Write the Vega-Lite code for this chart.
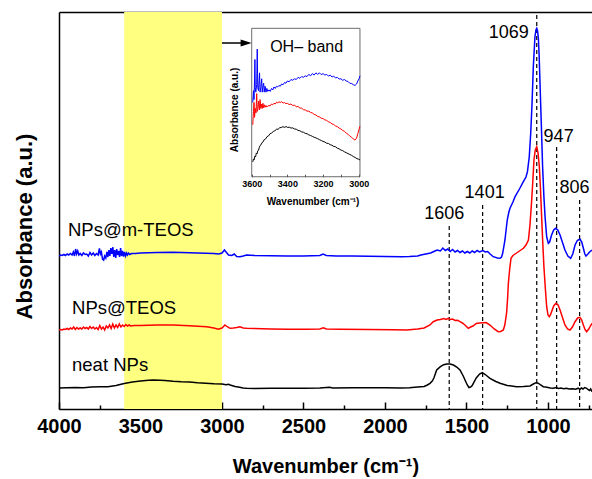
{
  "$schema": "https://vega.github.io/schema/vega-lite/v6.json",
  "width": 533,
  "height": 397,
  "autosize": {"type": "none"},
  "padding": {"left": 59, "top": 12, "right": 0, "bottom": 70},
  "config": {
    "view": {"stroke": null},
    "font": "Liberation Sans",
    "axisY": {"domain": true, "domainColor": "black", "domainWidth": 1.5, "ticks": false, "labels": false, "grid": false, "titleFont": "Liberation Sans", "titleFontSize": 22, "titleFontWeight": "bold", "titleColor": "black", "titlePadding": 23, "titleY": 214}
  },
  "datasets": {
    "band": [{"w": 3600, "w2": 3000}],
    "arrow": [{"w": 3000, "w2": 2852, "v": 366}],
    "peaks": [{"p": "1606", "w": 1606, "v": 183}, {"p": "1401", "w": 1401, "v": 204}, {"p": "1069", "w": 1069, "v": 394}, {"p": "947", "w": 947, "v": 262}, {"p": "806", "w": 806, "v": 209}],
    "peakLabelsA": [{"p": "1606", "w": 1606, "v": 195}, {"p": "806", "w": 806, "v": 221}],
    "peakLabelsB": [{"p": "1401", "w": 1401, "v": 216}, {"p": "947", "w": 947, "v": 272}],
    "peakLabelMain": [{"p": "1069", "w": 1069, "v": 376}],
    "names": [{"name": "NPs@m-TEOS", "w": 3945, "v": 179}, {"name": "NPs@TEOS", "w": 3920, "v": 101}, {"name": "neat NPs", "w": 3920, "v": 44}],
    "main": [
      {"s":"neat NPs","w":4000,"v":21},{"s":"neat NPs","w":3950,"v":21.3},{"s":"neat NPs","w":3900,"v":21.5},{"s":"neat NPs","w":3850,"v":21.2},{"s":"neat NPs","w":3800,"v":22},{"s":"neat NPs","w":3750,"v":22.3},{"s":"neat NPs","w":3700,"v":22.3},{"s":"neat NPs","w":3650,"v":23.5},{"s":"neat NPs","w":3600,"v":25.5},{"s":"neat NPs","w":3550,"v":27},{"s":"neat NPs","w":3500,"v":28},{"s":"neat NPs","w":3450,"v":28.7},{"s":"neat NPs","w":3420,"v":29},{"s":"neat NPs","w":3380,"v":28.8},{"s":"neat NPs","w":3350,"v":28.5},{"s":"neat NPs","w":3300,"v":27.8},{"s":"neat NPs","w":3250,"v":27.3},{"s":"neat NPs","w":3200,"v":27},{"s":"neat NPs","w":3150,"v":26.3},{"s":"neat NPs","w":3100,"v":25.8},{"s":"neat NPs","w":3050,"v":25.3},{"s":"neat NPs","w":3000,"v":25},{"s":"neat NPs","w":2975,"v":24.3},{"s":"neat NPs","w":2960,"v":24.8},{"s":"neat NPs","w":2950,"v":24},{"s":"neat NPs","w":2920,"v":22.5},{"s":"neat NPs","w":2900,"v":22},{"s":"neat NPs","w":2870,"v":21},{"s":"neat NPs","w":2850,"v":20.7},{"s":"neat NPs","w":2800,"v":20.6},{"s":"neat NPs","w":2700,"v":20.7},{"s":"neat NPs","w":2600,"v":20.8},{"s":"neat NPs","w":2500,"v":20.7},{"s":"neat NPs","w":2400,"v":21},{"s":"neat NPs","w":2360,"v":21.5},{"s":"neat NPs","w":2340,"v":21.8},{"s":"neat NPs","w":2320,"v":21},{"s":"neat NPs","w":2200,"v":21.2},{"s":"neat NPs","w":2100,"v":21.3},{"s":"neat NPs","w":2000,"v":21.2},{"s":"neat NPs","w":1900,"v":21},{"s":"neat NPs","w":1850,"v":21.3},{"s":"neat NPs","w":1800,"v":22},{"s":"neat NPs","w":1760,"v":22.5},{"s":"neat NPs","w":1740,"v":24},{"s":"neat NPs","w":1724,"v":25.7},{"s":"neat NPs","w":1710,"v":28},{"s":"neat NPs","w":1700,"v":31},{"s":"neat NPs","w":1683,"v":39},{"s":"neat NPs","w":1660,"v":42.3},{"s":"neat NPs","w":1640,"v":44.3},{"s":"neat NPs","w":1620,"v":45},{"s":"neat NPs","w":1601,"v":45},{"s":"neat NPs","w":1580,"v":44},{"s":"neat NPs","w":1560,"v":42},{"s":"neat NPs","w":1540,"v":39},{"s":"neat NPs","w":1520,"v":33},{"s":"neat NPs","w":1505,"v":27.5},{"s":"neat NPs","w":1495,"v":24},{"s":"neat NPs","w":1485,"v":21.5},{"s":"neat NPs","w":1475,"v":22},{"s":"neat NPs","w":1465,"v":23.5},{"s":"neat NPs","w":1458,"v":25.7},{"s":"neat NPs","w":1440,"v":31},{"s":"neat NPs","w":1420,"v":35},{"s":"neat NPs","w":1403,"v":36.3},{"s":"neat NPs","w":1385,"v":34.5},{"s":"neat NPs","w":1370,"v":32.5},{"s":"neat NPs","w":1356,"v":30.7},{"s":"neat NPs","w":1320,"v":27.5},{"s":"neat NPs","w":1294,"v":25.7},{"s":"neat NPs","w":1250,"v":23.5},{"s":"neat NPs","w":1192,"v":22.3},{"s":"neat NPs","w":1150,"v":22.5},{"s":"neat NPs","w":1110,"v":23},{"s":"neat NPs","w":1090,"v":25},{"s":"neat NPs","w":1074,"v":26.3},{"s":"neat NPs","w":1060,"v":25.8},{"s":"neat NPs","w":1045,"v":24},{"s":"neat NPs","w":1029,"v":22.3},{"s":"neat NPs","w":1015,"v":22},{"s":"neat NPs","w":1000,"v":21.5},{"s":"neat NPs","w":985,"v":21},{"s":"neat NPs","w":968,"v":20.7},{"s":"neat NPs","w":950,"v":21.5},{"s":"neat NPs","w":935,"v":20.5},{"s":"neat NPs","w":920,"v":21},{"s":"neat NPs","w":905,"v":20.3},{"s":"neat NPs","w":886,"v":20.7},{"s":"neat NPs","w":870,"v":20},{"s":"neat NPs","w":850,"v":20.3},{"s":"neat NPs","w":830,"v":19.8},{"s":"neat NPs","w":815,"v":20.8},{"s":"neat NPs","w":804,"v":19.7},{"s":"neat NPs","w":795,"v":21},{"s":"neat NPs","w":785,"v":20},{"s":"neat NPs","w":775,"v":21.5},{"s":"neat NPs","w":763,"v":20.7},{"s":"neat NPs","w":755,"v":19.5},{"s":"neat NPs","w":745,"v":18.5},{"s":"neat NPs","w":738,"v":20},{"s":"neat NPs","w":730,"v":17.3},
      {"s":"NPs@TEOS","w":4000,"v":79},{"s":"NPs@TEOS","w":3990,"v":79.5},{"s":"NPs@TEOS","w":3980,"v":79},{"s":"NPs@TEOS","w":3970,"v":80},{"s":"NPs@TEOS","w":3960,"v":79.5},{"s":"NPs@TEOS","w":3950,"v":80.5},{"s":"NPs@TEOS","w":3940,"v":79.5},{"s":"NPs@TEOS","w":3930,"v":81},{"s":"NPs@TEOS","w":3920,"v":80},{"s":"NPs@TEOS","w":3910,"v":82},{"s":"NPs@TEOS","w":3900,"v":79.5},{"s":"NPs@TEOS","w":3890,"v":81.5},{"s":"NPs@TEOS","w":3880,"v":80},{"s":"NPs@TEOS","w":3870,"v":81},{"s":"NPs@TEOS","w":3860,"v":80},{"s":"NPs@TEOS","w":3850,"v":82},{"s":"NPs@TEOS","w":3840,"v":80.5},{"s":"NPs@TEOS","w":3830,"v":81.5},{"s":"NPs@TEOS","w":3820,"v":80},{"s":"NPs@TEOS","w":3810,"v":82.5},{"s":"NPs@TEOS","w":3800,"v":80.5},{"s":"NPs@TEOS","w":3790,"v":82},{"s":"NPs@TEOS","w":3780,"v":80},{"s":"NPs@TEOS","w":3770,"v":81.5},{"s":"NPs@TEOS","w":3760,"v":79.5},{"s":"NPs@TEOS","w":3750,"v":83.5},{"s":"NPs@TEOS","w":3740,"v":80},{"s":"NPs@TEOS","w":3730,"v":82},{"s":"NPs@TEOS","w":3720,"v":79},{"s":"NPs@TEOS","w":3710,"v":83},{"s":"NPs@TEOS","w":3700,"v":81},{"s":"NPs@TEOS","w":3690,"v":84},{"s":"NPs@TEOS","w":3680,"v":80.5},{"s":"NPs@TEOS","w":3670,"v":85},{"s":"NPs@TEOS","w":3660,"v":81},{"s":"NPs@TEOS","w":3650,"v":84},{"s":"NPs@TEOS","w":3640,"v":81.5},{"s":"NPs@TEOS","w":3630,"v":85},{"s":"NPs@TEOS","w":3620,"v":82},{"s":"NPs@TEOS","w":3610,"v":84},{"s":"NPs@TEOS","w":3600,"v":82.5},{"s":"NPs@TEOS","w":3590,"v":84.5},{"s":"NPs@TEOS","w":3580,"v":83},{"s":"NPs@TEOS","w":3570,"v":84},{"s":"NPs@TEOS","w":3560,"v":83},{"s":"NPs@TEOS","w":3540,"v":83.5},{"s":"NPs@TEOS","w":3500,"v":83.5},{"s":"NPs@TEOS","w":3400,"v":84},{"s":"NPs@TEOS","w":3300,"v":84},{"s":"NPs@TEOS","w":3200,"v":83.3},{"s":"NPs@TEOS","w":3094,"v":82.3},{"s":"NPs@TEOS","w":3050,"v":81},{"s":"NPs@TEOS","w":3023,"v":79.7},{"s":"NPs@TEOS","w":3000,"v":81},{"s":"NPs@TEOS","w":2982,"v":84},{"s":"NPs@TEOS","w":2970,"v":82.5},{"s":"NPs@TEOS","w":2951,"v":80.7},{"s":"NPs@TEOS","w":2930,"v":81},{"s":"NPs@TEOS","w":2910,"v":81.5},{"s":"NPs@TEOS","w":2890,"v":82.3},{"s":"NPs@TEOS","w":2870,"v":81},{"s":"NPs@TEOS","w":2849,"v":80.7},{"s":"NPs@TEOS","w":2700,"v":80},{"s":"NPs@TEOS","w":2600,"v":79.8},{"s":"NPs@TEOS","w":2480,"v":79.7},{"s":"NPs@TEOS","w":2400,"v":80},{"s":"NPs@TEOS","w":2378,"v":81.3},{"s":"NPs@TEOS","w":2360,"v":80},{"s":"NPs@TEOS","w":2276,"v":79.7},{"s":"NPs@TEOS","w":2100,"v":79.5},{"s":"NPs@TEOS","w":1950,"v":79.2},{"s":"NPs@TEOS","w":1867,"v":79},{"s":"NPs@TEOS","w":1800,"v":80},{"s":"NPs@TEOS","w":1760,"v":81},{"s":"NPs@TEOS","w":1724,"v":84},{"s":"NPs@TEOS","w":1704,"v":87.3},{"s":"NPs@TEOS","w":1680,"v":89},{"s":"NPs@TEOS","w":1660,"v":89.5},{"s":"NPs@TEOS","w":1640,"v":90.5},{"s":"NPs@TEOS","w":1625,"v":89.5},{"s":"NPs@TEOS","w":1612,"v":90.7},{"s":"NPs@TEOS","w":1600,"v":89.5},{"s":"NPs@TEOS","w":1585,"v":90},{"s":"NPs@TEOS","w":1570,"v":88.5},{"s":"NPs@TEOS","w":1555,"v":88.8},{"s":"NPs@TEOS","w":1540,"v":87.3},{"s":"NPs@TEOS","w":1525,"v":86},{"s":"NPs@TEOS","w":1510,"v":84},{"s":"NPs@TEOS","w":1489,"v":80.7},{"s":"NPs@TEOS","w":1475,"v":82},{"s":"NPs@TEOS","w":1460,"v":83},{"s":"NPs@TEOS","w":1440,"v":85.5},{"s":"NPs@TEOS","w":1420,"v":86},{"s":"NPs@TEOS","w":1397,"v":86.3},{"s":"NPs@TEOS","w":1380,"v":86.5},{"s":"NPs@TEOS","w":1356,"v":84},{"s":"NPs@TEOS","w":1330,"v":80},{"s":"NPs@TEOS","w":1305,"v":77.3},{"s":"NPs@TEOS","w":1290,"v":77.5},{"s":"NPs@TEOS","w":1274,"v":79},{"s":"NPs@TEOS","w":1265,"v":84},{"s":"NPs@TEOS","w":1254,"v":96},{"s":"NPs@TEOS","w":1248,"v":110},{"s":"NPs@TEOS","w":1243,"v":126},{"s":"NPs@TEOS","w":1235,"v":140},{"s":"NPs@TEOS","w":1227,"v":150.7},{"s":"NPs@TEOS","w":1215,"v":153.5},{"s":"NPs@TEOS","w":1202,"v":155},{"s":"NPs@TEOS","w":1175,"v":158},{"s":"NPs@TEOS","w":1151,"v":160.7},{"s":"NPs@TEOS","w":1135,"v":164},{"s":"NPs@TEOS","w":1120,"v":169},{"s":"NPs@TEOS","w":1110,"v":185},{"s":"NPs@TEOS","w":1100,"v":209},{"s":"NPs@TEOS","w":1093,"v":228},{"s":"NPs@TEOS","w":1086,"v":249},{"s":"NPs@TEOS","w":1078,"v":259},{"s":"NPs@TEOS","w":1069,"v":262.3},{"s":"NPs@TEOS","w":1061,"v":256},{"s":"NPs@TEOS","w":1053,"v":242.3},{"s":"NPs@TEOS","w":1046,"v":220},{"s":"NPs@TEOS","w":1039,"v":192.3},{"s":"NPs@TEOS","w":1032,"v":166},{"s":"NPs@TEOS","w":1025,"v":142.3},{"s":"NPs@TEOS","w":1016,"v":120},{"s":"NPs@TEOS","w":1008,"v":102.3},{"s":"NPs@TEOS","w":1000,"v":94},{"s":"NPs@TEOS","w":992,"v":92.3},{"s":"NPs@TEOS","w":985,"v":94},{"s":"NPs@TEOS","w":978,"v":97.3},{"s":"NPs@TEOS","w":965,"v":103},{"s":"NPs@TEOS","w":951,"v":105.7},{"s":"NPs@TEOS","w":938,"v":104},{"s":"NPs@TEOS","w":926,"v":99},{"s":"NPs@TEOS","w":910,"v":91},{"s":"NPs@TEOS","w":896,"v":84},{"s":"NPs@TEOS","w":880,"v":80},{"s":"NPs@TEOS","w":865,"v":79},{"s":"NPs@TEOS","w":850,"v":82},{"s":"NPs@TEOS","w":834,"v":87.3},{"s":"NPs@TEOS","w":818,"v":91},{"s":"NPs@TEOS","w":804,"v":91.7},{"s":"NPs@TEOS","w":793,"v":89},{"s":"NPs@TEOS","w":783,"v":84},{"s":"NPs@TEOS","w":773,"v":79.5},{"s":"NPs@TEOS","w":763,"v":77.3},{"s":"NPs@TEOS","w":750,"v":80},{"s":"NPs@TEOS","w":740,"v":83},{"s":"NPs@TEOS","w":730,"v":85.7},
      {"s":"NPs@m-TEOS","w":4000,"v":153},{"s":"NPs@m-TEOS","w":3990,"v":154},{"s":"NPs@m-TEOS","w":3980,"v":153.5},{"s":"NPs@m-TEOS","w":3970,"v":154.5},{"s":"NPs@m-TEOS","w":3960,"v":153.5},{"s":"NPs@m-TEOS","w":3950,"v":155},{"s":"NPs@m-TEOS","w":3940,"v":154},{"s":"NPs@m-TEOS","w":3930,"v":155.5},{"s":"NPs@m-TEOS","w":3920,"v":154},{"s":"NPs@m-TEOS","w":3912,"v":157},{"s":"NPs@m-TEOS","w":3905,"v":153},{"s":"NPs@m-TEOS","w":3898,"v":160},{"s":"NPs@m-TEOS","w":3892,"v":155},{"s":"NPs@m-TEOS","w":3885,"v":158},{"s":"NPs@m-TEOS","w":3878,"v":154},{"s":"NPs@m-TEOS","w":3870,"v":155.5},{"s":"NPs@m-TEOS","w":3860,"v":153.5},{"s":"NPs@m-TEOS","w":3850,"v":156},{"s":"NPs@m-TEOS","w":3840,"v":154.5},{"s":"NPs@m-TEOS","w":3830,"v":155},{"s":"NPs@m-TEOS","w":3820,"v":153},{"s":"NPs@m-TEOS","w":3810,"v":156.5},{"s":"NPs@m-TEOS","w":3800,"v":154},{"s":"NPs@m-TEOS","w":3790,"v":156},{"s":"NPs@m-TEOS","w":3780,"v":153.5},{"s":"NPs@m-TEOS","w":3770,"v":155.5},{"s":"NPs@m-TEOS","w":3760,"v":154},{"s":"NPs@m-TEOS","w":3752,"v":160.5},{"s":"NPs@m-TEOS","w":3746,"v":155},{"s":"NPs@m-TEOS","w":3740,"v":157},{"s":"NPs@m-TEOS","w":3733,"v":150},{"s":"NPs@m-TEOS","w":3726,"v":149},{"s":"NPs@m-TEOS","w":3720,"v":153},{"s":"NPs@m-TEOS","w":3713,"v":151},{"s":"NPs@m-TEOS","w":3706,"v":157},{"s":"NPs@m-TEOS","w":3700,"v":152},{"s":"NPs@m-TEOS","w":3694,"v":159},{"s":"NPs@m-TEOS","w":3688,"v":153},{"s":"NPs@m-TEOS","w":3682,"v":161},{"s":"NPs@m-TEOS","w":3676,"v":155},{"s":"NPs@m-TEOS","w":3670,"v":162},{"s":"NPs@m-TEOS","w":3664,"v":152},{"s":"NPs@m-TEOS","w":3658,"v":159},{"s":"NPs@m-TEOS","w":3652,"v":151},{"s":"NPs@m-TEOS","w":3646,"v":160},{"s":"NPs@m-TEOS","w":3640,"v":154},{"s":"NPs@m-TEOS","w":3634,"v":158},{"s":"NPs@m-TEOS","w":3628,"v":152},{"s":"NPs@m-TEOS","w":3622,"v":161},{"s":"NPs@m-TEOS","w":3616,"v":153},{"s":"NPs@m-TEOS","w":3610,"v":158},{"s":"NPs@m-TEOS","w":3604,"v":152.5},{"s":"NPs@m-TEOS","w":3598,"v":157},{"s":"NPs@m-TEOS","w":3592,"v":153},{"s":"NPs@m-TEOS","w":3586,"v":156},{"s":"NPs@m-TEOS","w":3580,"v":154},{"s":"NPs@m-TEOS","w":3574,"v":156},{"s":"NPs@m-TEOS","w":3566,"v":154.5},{"s":"NPs@m-TEOS","w":3555,"v":155.5},{"s":"NPs@m-TEOS","w":3530,"v":155.5},{"s":"NPs@m-TEOS","w":3500,"v":156},{"s":"NPs@m-TEOS","w":3400,"v":156.5},{"s":"NPs@m-TEOS","w":3300,"v":156.7},{"s":"NPs@m-TEOS","w":3200,"v":156.3},{"s":"NPs@m-TEOS","w":3100,"v":155.8},{"s":"NPs@m-TEOS","w":3050,"v":155.5},{"s":"NPs@m-TEOS","w":3020,"v":155},{"s":"NPs@m-TEOS","w":3000,"v":156},{"s":"NPs@m-TEOS","w":2985,"v":159},{"s":"NPs@m-TEOS","w":2975,"v":157},{"s":"NPs@m-TEOS","w":2960,"v":154},{"s":"NPs@m-TEOS","w":2940,"v":153.5},{"s":"NPs@m-TEOS","w":2925,"v":155},{"s":"NPs@m-TEOS","w":2910,"v":152.5},{"s":"NPs@m-TEOS","w":2890,"v":152.3},{"s":"NPs@m-TEOS","w":2870,"v":153},{"s":"NPs@m-TEOS","w":2850,"v":154},{"s":"NPs@m-TEOS","w":2800,"v":153.5},{"s":"NPs@m-TEOS","w":2700,"v":153.3},{"s":"NPs@m-TEOS","w":2600,"v":153},{"s":"NPs@m-TEOS","w":2500,"v":153},{"s":"NPs@m-TEOS","w":2400,"v":153.5},{"s":"NPs@m-TEOS","w":2380,"v":155},{"s":"NPs@m-TEOS","w":2360,"v":153.5},{"s":"NPs@m-TEOS","w":2300,"v":153},{"s":"NPs@m-TEOS","w":2200,"v":153},{"s":"NPs@m-TEOS","w":2100,"v":152.8},{"s":"NPs@m-TEOS","w":2000,"v":152.5},{"s":"NPs@m-TEOS","w":1900,"v":152.3},{"s":"NPs@m-TEOS","w":1850,"v":152.5},{"s":"NPs@m-TEOS","w":1800,"v":153},{"s":"NPs@m-TEOS","w":1780,"v":154},{"s":"NPs@m-TEOS","w":1750,"v":155},{"s":"NPs@m-TEOS","w":1720,"v":156},{"s":"NPs@m-TEOS","w":1700,"v":157.5},{"s":"NPs@m-TEOS","w":1680,"v":159},{"s":"NPs@m-TEOS","w":1660,"v":158},{"s":"NPs@m-TEOS","w":1645,"v":161},{"s":"NPs@m-TEOS","w":1630,"v":158.5},{"s":"NPs@m-TEOS","w":1615,"v":160},{"s":"NPs@m-TEOS","w":1600,"v":157.5},{"s":"NPs@m-TEOS","w":1585,"v":159.5},{"s":"NPs@m-TEOS","w":1570,"v":157},{"s":"NPs@m-TEOS","w":1555,"v":158.5},{"s":"NPs@m-TEOS","w":1540,"v":156.5},{"s":"NPs@m-TEOS","w":1525,"v":158},{"s":"NPs@m-TEOS","w":1510,"v":156},{"s":"NPs@m-TEOS","w":1495,"v":157.5},{"s":"NPs@m-TEOS","w":1480,"v":156},{"s":"NPs@m-TEOS","w":1465,"v":158},{"s":"NPs@m-TEOS","w":1450,"v":156.5},{"s":"NPs@m-TEOS","w":1435,"v":158.5},{"s":"NPs@m-TEOS","w":1420,"v":157},{"s":"NPs@m-TEOS","w":1400,"v":158.5},{"s":"NPs@m-TEOS","w":1385,"v":157},{"s":"NPs@m-TEOS","w":1370,"v":157.5},{"s":"NPs@m-TEOS","w":1355,"v":155},{"s":"NPs@m-TEOS","w":1336,"v":152.3},{"s":"NPs@m-TEOS","w":1310,"v":151},{"s":"NPs@m-TEOS","w":1294,"v":150.7},{"s":"NPs@m-TEOS","w":1285,"v":152},{"s":"NPs@m-TEOS","w":1278,"v":155.7},{"s":"NPs@m-TEOS","w":1264,"v":169},{"s":"NPs@m-TEOS","w":1250,"v":189},{"s":"NPs@m-TEOS","w":1240,"v":197},{"s":"NPs@m-TEOS","w":1233,"v":200.7},{"s":"NPs@m-TEOS","w":1215,"v":207},{"s":"NPs@m-TEOS","w":1202,"v":212.3},{"s":"NPs@m-TEOS","w":1175,"v":220},{"s":"NPs@m-TEOS","w":1151,"v":227.3},{"s":"NPs@m-TEOS","w":1135,"v":232},{"s":"NPs@m-TEOS","w":1126,"v":237.3},{"s":"NPs@m-TEOS","w":1115,"v":252},{"s":"NPs@m-TEOS","w":1106,"v":275.7},{"s":"NPs@m-TEOS","w":1098,"v":305},{"s":"NPs@m-TEOS","w":1090,"v":342.3},{"s":"NPs@m-TEOS","w":1080,"v":372.3},{"s":"NPs@m-TEOS","w":1074,"v":379},{"s":"NPs@m-TEOS","w":1069,"v":380.7},{"s":"NPs@m-TEOS","w":1064,"v":378},{"s":"NPs@m-TEOS","w":1059,"v":370.7},{"s":"NPs@m-TEOS","w":1054,"v":352},{"s":"NPs@m-TEOS","w":1049,"v":325.7},{"s":"NPs@m-TEOS","w":1041,"v":285},{"s":"NPs@m-TEOS","w":1033,"v":242.3},{"s":"NPs@m-TEOS","w":1025,"v":212},{"s":"NPs@m-TEOS","w":1018,"v":192.3},{"s":"NPs@m-TEOS","w":1008,"v":172},{"s":"NPs@m-TEOS","w":998,"v":165.7},{"s":"NPs@m-TEOS","w":990,"v":167},{"s":"NPs@m-TEOS","w":978,"v":174},{"s":"NPs@m-TEOS","w":965,"v":179},{"s":"NPs@m-TEOS","w":953,"v":180.7},{"s":"NPs@m-TEOS","w":940,"v":179},{"s":"NPs@m-TEOS","w":926,"v":174},{"s":"NPs@m-TEOS","w":910,"v":166},{"s":"NPs@m-TEOS","w":896,"v":159},{"s":"NPs@m-TEOS","w":878,"v":153},{"s":"NPs@m-TEOS","w":861,"v":150.7},{"s":"NPs@m-TEOS","w":848,"v":155},{"s":"NPs@m-TEOS","w":834,"v":164},{"s":"NPs@m-TEOS","w":820,"v":168.5},{"s":"NPs@m-TEOS","w":804,"v":170},{"s":"NPs@m-TEOS","w":793,"v":167},{"s":"NPs@m-TEOS","w":783,"v":160.7},{"s":"NPs@m-TEOS","w":774,"v":155},{"s":"NPs@m-TEOS","w":767,"v":153},{"s":"NPs@m-TEOS","w":755,"v":155},{"s":"NPs@m-TEOS","w":745,"v":157},{"s":"NPs@m-TEOS","w":730,"v":159}
    ],
    "frame": [{"iw": 3600, "iw2": 2993, "iv": 0, "iv2": 100}],
    "insetText": [{"t": "OH\u2013 band", "iw": 3292, "iv": 87.6}],
    "insetXTitle": [{"t": "Wavenumber (cm\u207b\u00b9)", "iw": 3256, "iv": -17}],
    "insetYTitle": [{"t": "Absorbance (a.u.)", "iw": 3694, "iv": 45}],
    "inset": [
      {"s":"NPs@m-TEOS","iw":3594,"iv":50},{"s":"NPs@m-TEOS","iw":3590,"iv":58},{"s":"NPs@m-TEOS","iw":3587,"iv":52},{"s":"NPs@m-TEOS","iw":3584,"iv":66},{"s":"NPs@m-TEOS","iw":3582,"iv":79},{"s":"NPs@m-TEOS","iw":3580,"iv":60},{"s":"NPs@m-TEOS","iw":3577,"iv":57},{"s":"NPs@m-TEOS","iw":3572,"iv":62},{"s":"NPs@m-TEOS","iw":3569,"iv":86},{"s":"NPs@m-TEOS","iw":3566,"iv":60},{"s":"NPs@m-TEOS","iw":3562,"iv":58},{"s":"NPs@m-TEOS","iw":3556,"iv":70},{"s":"NPs@m-TEOS","iw":3553,"iv":57},{"s":"NPs@m-TEOS","iw":3549,"iv":60},{"s":"NPs@m-TEOS","iw":3544,"iv":66},{"s":"NPs@m-TEOS","iw":3541,"iv":57},{"s":"NPs@m-TEOS","iw":3537,"iv":61},{"s":"NPs@m-TEOS","iw":3533,"iv":63},{"s":"NPs@m-TEOS","iw":3530,"iv":57},{"s":"NPs@m-TEOS","iw":3525,"iv":61},{"s":"NPs@m-TEOS","iw":3520,"iv":57},{"s":"NPs@m-TEOS","iw":3515,"iv":59.5},{"s":"NPs@m-TEOS","iw":3510,"iv":57.5},{"s":"NPs@m-TEOS","iw":3503,"iv":58.5},{"s":"NPs@m-TEOS","iw":3496,"iv":57.5},{"s":"NPs@m-TEOS","iw":3489,"iv":59.5},{"s":"NPs@m-TEOS","iw":3482,"iv":58.5},{"s":"NPs@m-TEOS","iw":3475,"iv":60.5},{"s":"NPs@m-TEOS","iw":3468,"iv":59.5},{"s":"NPs@m-TEOS","iw":3461,"iv":61},{"s":"NPs@m-TEOS","iw":3454,"iv":60.5},{"s":"NPs@m-TEOS","iw":3447,"iv":61.5},{"s":"NPs@m-TEOS","iw":3440,"iv":61},{"s":"NPs@m-TEOS","iw":3432,"iv":62.5},{"s":"NPs@m-TEOS","iw":3424,"iv":62},{"s":"NPs@m-TEOS","iw":3416,"iv":63.5},{"s":"NPs@m-TEOS","iw":3408,"iv":63},{"s":"NPs@m-TEOS","iw":3400,"iv":64.5},{"s":"NPs@m-TEOS","iw":3390,"iv":64},{"s":"NPs@m-TEOS","iw":3380,"iv":65.5},{"s":"NPs@m-TEOS","iw":3370,"iv":65},{"s":"NPs@m-TEOS","iw":3360,"iv":66},{"s":"NPs@m-TEOS","iw":3350,"iv":65.5},{"s":"NPs@m-TEOS","iw":3340,"iv":67},{"s":"NPs@m-TEOS","iw":3330,"iv":66.3},{"s":"NPs@m-TEOS","iw":3320,"iv":67.5},{"s":"NPs@m-TEOS","iw":3310,"iv":67},{"s":"NPs@m-TEOS","iw":3300,"iv":68},{"s":"NPs@m-TEOS","iw":3290,"iv":67.5},{"s":"NPs@m-TEOS","iw":3280,"iv":69},{"s":"NPs@m-TEOS","iw":3270,"iv":68},{"s":"NPs@m-TEOS","iw":3260,"iv":69.5},{"s":"NPs@m-TEOS","iw":3250,"iv":68.5},{"s":"NPs@m-TEOS","iw":3240,"iv":70},{"s":"NPs@m-TEOS","iw":3230,"iv":69},{"s":"NPs@m-TEOS","iw":3220,"iv":70},{"s":"NPs@m-TEOS","iw":3210,"iv":68.8},{"s":"NPs@m-TEOS","iw":3200,"iv":69.5},{"s":"NPs@m-TEOS","iw":3190,"iv":68.5},{"s":"NPs@m-TEOS","iw":3180,"iv":69},{"s":"NPs@m-TEOS","iw":3170,"iv":67.8},{"s":"NPs@m-TEOS","iw":3160,"iv":68.5},{"s":"NPs@m-TEOS","iw":3150,"iv":67.2},{"s":"NPs@m-TEOS","iw":3140,"iv":67.8},{"s":"NPs@m-TEOS","iw":3130,"iv":66.5},{"s":"NPs@m-TEOS","iw":3120,"iv":67},{"s":"NPs@m-TEOS","iw":3110,"iv":65.8},{"s":"NPs@m-TEOS","iw":3100,"iv":66},{"s":"NPs@m-TEOS","iw":3090,"iv":65},{"s":"NPs@m-TEOS","iw":3080,"iv":65.5},{"s":"NPs@m-TEOS","iw":3070,"iv":64.5},{"s":"NPs@m-TEOS","iw":3060,"iv":64.2},{"s":"NPs@m-TEOS","iw":3050,"iv":63},{"s":"NPs@m-TEOS","iw":3040,"iv":62.8},{"s":"NPs@m-TEOS","iw":3030,"iv":62},{"s":"NPs@m-TEOS","iw":3021,"iv":61.5},{"s":"NPs@m-TEOS","iw":3012,"iv":62.5},{"s":"NPs@m-TEOS","iw":3005,"iv":64.5},{"s":"NPs@m-TEOS","iw":2998,"iv":66},{"s":"NPs@m-TEOS","iw":2993,"iv":68},
      {"s":"NPs@TEOS","iw":3594,"iv":35},{"s":"NPs@TEOS","iw":3590,"iv":44},{"s":"NPs@TEOS","iw":3587,"iv":50},{"s":"NPs@TEOS","iw":3584,"iv":40},{"s":"NPs@TEOS","iw":3580,"iv":46},{"s":"NPs@TEOS","iw":3576,"iv":43},{"s":"NPs@TEOS","iw":3572,"iv":56},{"s":"NPs@TEOS","iw":3569,"iv":44},{"s":"NPs@TEOS","iw":3565,"iv":46},{"s":"NPs@TEOS","iw":3561,"iv":51},{"s":"NPs@TEOS","iw":3557,"iv":45},{"s":"NPs@TEOS","iw":3553,"iv":52},{"s":"NPs@TEOS","iw":3549,"iv":46},{"s":"NPs@TEOS","iw":3545,"iv":49},{"s":"NPs@TEOS","iw":3541,"iv":46},{"s":"NPs@TEOS","iw":3537,"iv":49.5},{"s":"NPs@TEOS","iw":3533,"iv":46.5},{"s":"NPs@TEOS","iw":3529,"iv":48.5},{"s":"NPs@TEOS","iw":3525,"iv":46.8},{"s":"NPs@TEOS","iw":3520,"iv":48},{"s":"NPs@TEOS","iw":3515,"iv":47},{"s":"NPs@TEOS","iw":3510,"iv":47.5},{"s":"NPs@TEOS","iw":3503,"iv":48},{"s":"NPs@TEOS","iw":3496,"iv":47.8},{"s":"NPs@TEOS","iw":3489,"iv":49},{"s":"NPs@TEOS","iw":3482,"iv":48.5},{"s":"NPs@TEOS","iw":3475,"iv":49.5},{"s":"NPs@TEOS","iw":3468,"iv":49},{"s":"NPs@TEOS","iw":3461,"iv":50.2},{"s":"NPs@TEOS","iw":3454,"iv":49.8},{"s":"NPs@TEOS","iw":3447,"iv":50.5},{"s":"NPs@TEOS","iw":3440,"iv":50},{"s":"NPs@TEOS","iw":3432,"iv":50.6},{"s":"NPs@TEOS","iw":3424,"iv":49.6},{"s":"NPs@TEOS","iw":3416,"iv":50},{"s":"NPs@TEOS","iw":3408,"iv":49.2},{"s":"NPs@TEOS","iw":3400,"iv":49.5},{"s":"NPs@TEOS","iw":3390,"iv":48.6},{"s":"NPs@TEOS","iw":3380,"iv":49},{"s":"NPs@TEOS","iw":3370,"iv":48},{"s":"NPs@TEOS","iw":3360,"iv":48.2},{"s":"NPs@TEOS","iw":3350,"iv":47.2},{"s":"NPs@TEOS","iw":3340,"iv":47.3},{"s":"NPs@TEOS","iw":3330,"iv":46.3},{"s":"NPs@TEOS","iw":3320,"iv":46.2},{"s":"NPs@TEOS","iw":3310,"iv":45.2},{"s":"NPs@TEOS","iw":3300,"iv":45},{"s":"NPs@TEOS","iw":3290,"iv":44.2},{"s":"NPs@TEOS","iw":3280,"iv":44.2},{"s":"NPs@TEOS","iw":3270,"iv":43.3},{"s":"NPs@TEOS","iw":3260,"iv":43},{"s":"NPs@TEOS","iw":3250,"iv":42},{"s":"NPs@TEOS","iw":3240,"iv":41.6},{"s":"NPs@TEOS","iw":3230,"iv":40.6},{"s":"NPs@TEOS","iw":3220,"iv":40.3},{"s":"NPs@TEOS","iw":3210,"iv":39.4},{"s":"NPs@TEOS","iw":3200,"iv":39.2},{"s":"NPs@TEOS","iw":3190,"iv":38.3},{"s":"NPs@TEOS","iw":3180,"iv":38},{"s":"NPs@TEOS","iw":3170,"iv":37},{"s":"NPs@TEOS","iw":3160,"iv":36.6},{"s":"NPs@TEOS","iw":3150,"iv":35.6},{"s":"NPs@TEOS","iw":3140,"iv":35.2},{"s":"NPs@TEOS","iw":3130,"iv":34.2},{"s":"NPs@TEOS","iw":3120,"iv":33.8},{"s":"NPs@TEOS","iw":3110,"iv":32.8},{"s":"NPs@TEOS","iw":3100,"iv":32.2},{"s":"NPs@TEOS","iw":3090,"iv":31.2},{"s":"NPs@TEOS","iw":3080,"iv":30.6},{"s":"NPs@TEOS","iw":3070,"iv":29.4},{"s":"NPs@TEOS","iw":3060,"iv":28.6},{"s":"NPs@TEOS","iw":3050,"iv":27.4},{"s":"NPs@TEOS","iw":3040,"iv":26.6},{"s":"NPs@TEOS","iw":3030,"iv":25.4},{"s":"NPs@TEOS","iw":3021,"iv":24.7},{"s":"NPs@TEOS","iw":3012,"iv":26},{"s":"NPs@TEOS","iw":3005,"iv":29},{"s":"NPs@TEOS","iw":2998,"iv":32},{"s":"NPs@TEOS","iw":2993,"iv":34},
      {"s":"neat NPs","iw":3594,"iv":10},{"s":"neat NPs","iw":3590,"iv":12},{"s":"neat NPs","iw":3586,"iv":11.5},{"s":"neat NPs","iw":3582,"iv":14},{"s":"neat NPs","iw":3578,"iv":13.5},{"s":"neat NPs","iw":3574,"iv":16},{"s":"neat NPs","iw":3570,"iv":15.5},{"s":"neat NPs","iw":3566,"iv":17.5},{"s":"neat NPs","iw":3562,"iv":17.8},{"s":"neat NPs","iw":3558,"iv":19.5},{"s":"neat NPs","iw":3553,"iv":21},{"s":"neat NPs","iw":3548,"iv":21.5},{"s":"neat NPs","iw":3542,"iv":23},{"s":"neat NPs","iw":3536,"iv":23.5},{"s":"neat NPs","iw":3530,"iv":25},{"s":"neat NPs","iw":3522,"iv":25.5},{"s":"neat NPs","iw":3514,"iv":27},{"s":"neat NPs","iw":3506,"iv":27.5},{"s":"neat NPs","iw":3497,"iv":29},{"s":"neat NPs","iw":3488,"iv":29.5},{"s":"neat NPs","iw":3479,"iv":30.5},{"s":"neat NPs","iw":3470,"iv":31},{"s":"neat NPs","iw":3461,"iv":32},{"s":"neat NPs","iw":3452,"iv":32},{"s":"neat NPs","iw":3443,"iv":33},{"s":"neat NPs","iw":3434,"iv":33.2},{"s":"neat NPs","iw":3425,"iv":33.7},{"s":"neat NPs","iw":3416,"iv":33.3},{"s":"neat NPs","iw":3407,"iv":33.8},{"s":"neat NPs","iw":3398,"iv":33.2},{"s":"neat NPs","iw":3389,"iv":33.4},{"s":"neat NPs","iw":3380,"iv":32.8},{"s":"neat NPs","iw":3370,"iv":32.9},{"s":"neat NPs","iw":3360,"iv":32.2},{"s":"neat NPs","iw":3350,"iv":32},{"s":"neat NPs","iw":3340,"iv":31.2},{"s":"neat NPs","iw":3330,"iv":31},{"s":"neat NPs","iw":3320,"iv":30.2},{"s":"neat NPs","iw":3310,"iv":30},{"s":"neat NPs","iw":3300,"iv":29.2},{"s":"neat NPs","iw":3290,"iv":29},{"s":"neat NPs","iw":3280,"iv":28.2},{"s":"neat NPs","iw":3270,"iv":27.8},{"s":"neat NPs","iw":3260,"iv":27.2},{"s":"neat NPs","iw":3250,"iv":26.6},{"s":"neat NPs","iw":3240,"iv":26.2},{"s":"neat NPs","iw":3230,"iv":25.6},{"s":"neat NPs","iw":3220,"iv":25},{"s":"neat NPs","iw":3210,"iv":24.4},{"s":"neat NPs","iw":3200,"iv":23.8},{"s":"neat NPs","iw":3190,"iv":23.4},{"s":"neat NPs","iw":3180,"iv":22.6},{"s":"neat NPs","iw":3170,"iv":22.4},{"s":"neat NPs","iw":3160,"iv":21.6},{"s":"neat NPs","iw":3150,"iv":21.2},{"s":"neat NPs","iw":3140,"iv":20.4},{"s":"neat NPs","iw":3130,"iv":20.2},{"s":"neat NPs","iw":3120,"iv":19.2},{"s":"neat NPs","iw":3110,"iv":18.8},{"s":"neat NPs","iw":3100,"iv":18},{"s":"neat NPs","iw":3090,"iv":17.6},{"s":"neat NPs","iw":3080,"iv":16.8},{"s":"neat NPs","iw":3070,"iv":16.2},{"s":"neat NPs","iw":3060,"iv":15.6},{"s":"neat NPs","iw":3050,"iv":15},{"s":"neat NPs","iw":3040,"iv":14.4},{"s":"neat NPs","iw":3030,"iv":13.6},{"s":"neat NPs","iw":3020,"iv":13},{"s":"neat NPs","iw":3010,"iv":12.2},{"s":"neat NPs","iw":3000,"iv":11.8},{"s":"neat NPs","iw":2993,"iv":11.3}
    ]
  },
  "layer": [
    {
      "layer": [
        {
          "data": {"name": "band"},
          "mark": {"type": "rect", "color": "#FFFF80"},
          "encoding": {
            "x": {"field": "w", "type": "quantitative", "scale": {"domain": [730, 4000], "reverse": true, "nice": false, "zero": false},
              "axis": {"orient": "bottom", "values": [4000, 3750, 3500, 3250, 3000, 2750, 2500, 2250, 2000, 1750, 1500, 1250, 1000, 750], "format": "d",
                "labelExpr": "datum.value % 500 === 0 ? datum.label : ''",
                "tickSize": {"condition": {"test": "datum.value % 500 === 0", "value": -7}, "value": -4},
                "tickColor": "black", "tickWidth": 1.5, "domainColor": "black", "domainWidth": 1.5, "grid": false,
                "labelFont": "Liberation Sans", "labelFontWeight": "bold", "labelFontSize": 20, "labelColor": "black", "labelPadding": 14, "labelFlush": false, "labelOverlap": false,
                "title": "Wavenumber (cm\u207b\u00b9)", "titleFont": "Liberation Sans", "titleFontSize": 20, "titleFontWeight": "bold", "titleColor": "black", "titlePadding": 17}},
            "x2": {"field": "w2"}
          }
        },
        {
          "data": {"name": "peaks"},
          "mark": {"type": "rule", "color": "black", "strokeWidth": 1.2, "strokeDash": [4, 3]},
          "encoding": {
            "x": {"field": "w", "type": "quantitative", "scale": {"domain": [730, 4000], "reverse": true, "nice": false, "zero": false},
              "axis": {"orient": "top", "labels": false, "ticks": false, "title": null, "grid": false, "domainColor": "black", "domainWidth": 1.5}},
            "y": {"field": "v", "type": "quantitative", "title": "Absorbance (a.u.)", "scale": {"domain": [0, 397], "nice": false, "zero": false}},
            "y2": {"datum": 0}
          }
        },
        {
          "data": {"name": "main"},
          "mark": {"type": "line", "strokeWidth": 1.5, "clip": true},
          "encoding": {
            "x": {"field": "w", "type": "quantitative", "scale": {"domain": [730, 4000], "reverse": true, "nice": false, "zero": false}, "axis": null},
            "y": {"field": "v", "type": "quantitative", "title": "Absorbance (a.u.)", "scale": {"domain": [0, 397], "nice": false, "zero": false}},
            "color": {"field": "s", "type": "nominal", "scale": {"domain": ["neat NPs", "NPs@TEOS", "NPs@m-TEOS"], "range": ["#000000", "#FF0000", "#0000FF"]}, "legend": null},
            "order": {"field": "w", "type": "quantitative", "sort": "descending"}
          }
        },
        {
          "data": {"name": "peakLabelsA"},
          "mark": {"type": "text", "font": "Liberation Sans", "fontSize": 18, "align": "center", "baseline": "middle", "dx": -5, "color": "black"},
          "encoding": {
            "x": {"field": "w", "type": "quantitative", "scale": {"domain": [730, 4000], "reverse": true, "nice": false, "zero": false}, "axis": null},
            "y": {"field": "v", "type": "quantitative", "title": "Absorbance (a.u.)", "scale": {"domain": [0, 397], "nice": false, "zero": false}},
            "text": {"field": "p"}
          }
        },
        {
          "data": {"name": "peakLabelsB"},
          "mark": {"type": "text", "font": "Liberation Sans", "fontSize": 18, "align": "center", "baseline": "middle", "dx": 2, "color": "black"},
          "encoding": {
            "x": {"field": "w", "type": "quantitative", "scale": {"domain": [730, 4000], "reverse": true, "nice": false, "zero": false}, "axis": null},
            "y": {"field": "v", "type": "quantitative", "title": "Absorbance (a.u.)", "scale": {"domain": [0, 397], "nice": false, "zero": false}},
            "text": {"field": "p"}
          }
        },
        {
          "data": {"name": "peakLabelMain"},
          "mark": {"type": "text", "font": "Liberation Sans", "fontSize": 18, "align": "right", "baseline": "middle", "dx": -8, "color": "black"},
          "encoding": {
            "x": {"field": "w", "type": "quantitative", "scale": {"domain": [730, 4000], "reverse": true, "nice": false, "zero": false}, "axis": null},
            "y": {"field": "v", "type": "quantitative", "title": "Absorbance (a.u.)", "scale": {"domain": [0, 397], "nice": false, "zero": false}},
            "text": {"field": "p"}
          }
        },
        {
          "data": {"name": "names"},
          "mark": {"type": "text", "font": "Liberation Sans", "fontSize": 18.5, "align": "left", "baseline": "middle", "color": "black"},
          "encoding": {
            "x": {"field": "w", "type": "quantitative", "scale": {"domain": [730, 4000], "reverse": true, "nice": false, "zero": false}, "axis": null},
            "y": {"field": "v", "type": "quantitative", "title": "Absorbance (a.u.)", "scale": {"domain": [0, 397], "nice": false, "zero": false}},
            "text": {"field": "name"}
          }
        },
        {
          "data": {"name": "arrow"},
          "mark": {"type": "rule", "color": "black", "strokeWidth": 1.5},
          "encoding": {
            "x": {"field": "w", "type": "quantitative", "scale": {"domain": [730, 4000], "reverse": true, "nice": false, "zero": false}, "axis": null},
            "x2": {"field": "w2"},
            "y": {"field": "v", "type": "quantitative", "title": "Absorbance (a.u.)", "scale": {"domain": [0, 397], "nice": false, "zero": false}}
          }
        },
        {
          "data": {"name": "arrow"},
          "mark": {"type": "point", "shape": "M-1,-0.65L1,0L-1,0.65Z", "size": 121, "filled": true, "color": "black", "opacity": 1},
          "encoding": {
            "x": {"field": "w2", "type": "quantitative", "scale": {"domain": [730, 4000], "reverse": true, "nice": false, "zero": false}, "axis": null},
            "y": {"field": "v", "type": "quantitative", "title": "Absorbance (a.u.)", "scale": {"domain": [0, 397], "nice": false, "zero": false}}
          }
        }
      ],
      "resolve": {"axis": {"x": "independent"}}
    },
    {
      "data": {"name": "frame"},
      "mark": {"type": "rect", "fill": "white", "stroke": "#6b6b6b", "strokeWidth": 1},
      "encoding": {
        "x": {"field": "iw", "type": "quantitative", "scale": {"domain": [1692, 4680.5], "reverse": true, "nice": false, "zero": false},
          "axis": {"orient": "bottom", "offset": -232.3, "zindex": 1, "values": [3600, 3500, 3400, 3300, 3200, 3100, 3000], "format": "d",
            "labelExpr": "datum.value % 200 === 0 ? datum.label : ''", "domain": false, "grid": false,
            "tickSize": -2.5, "tickColor": "#555555", "tickWidth": 1,
            "labelFont": "Liberation Sans", "labelFontSize": 9, "labelFontWeight": "bold", "labelColor": "black", "labelPadding": 5, "labelFlush": false, "labelOverlap": false, "title": null}},
        "x2": {"field": "iw2"},
        "y": {"field": "iv", "type": "quantitative", "scale": {"domain": [-156.5, 111], "nice": false, "zero": false}, "axis": null},
        "y2": {"field": "iv2"}
      }
    },
    {
      "layer": [
        {
          "data": {"name": "inset"},
          "mark": {"type": "line", "strokeWidth": 1},
          "encoding": {
            "x": {"field": "iw", "type": "quantitative", "scale": {"domain": [1692, 4680.5], "reverse": true, "nice": false, "zero": false}, "axis": null},
            "y": {"field": "iv", "type": "quantitative", "scale": {"domain": [-156.5, 111], "nice": false, "zero": false}, "axis": null},
            "color": {"field": "s", "type": "nominal", "scale": {"domain": ["neat NPs", "NPs@TEOS", "NPs@m-TEOS"], "range": ["#000000", "#FF0000", "#0000FF"]}, "legend": null},
            "order": {"field": "iw", "type": "quantitative", "sort": "descending"}
          }
        },
        {
          "data": {"name": "insetText"},
          "mark": {"type": "text", "font": "Liberation Sans", "fontSize": 16, "align": "center", "baseline": "middle", "color": "black"},
          "encoding": {
            "x": {"field": "iw", "type": "quantitative", "scale": {"domain": [1692, 4680.5], "reverse": true, "nice": false, "zero": false}, "axis": null},
            "y": {"field": "iv", "type": "quantitative", "scale": {"domain": [-156.5, 111], "nice": false, "zero": false}, "axis": null},
            "text": {"field": "t"}
          }
        },
        {
          "data": {"name": "insetXTitle"},
          "mark": {"type": "text", "font": "Liberation Sans", "fontSize": 10, "fontWeight": "bold", "align": "center", "baseline": "middle", "color": "black"},
          "encoding": {
            "x": {"field": "iw", "type": "quantitative", "scale": {"domain": [1692, 4680.5], "reverse": true, "nice": false, "zero": false}, "axis": null},
            "y": {"field": "iv", "type": "quantitative", "scale": {"domain": [-156.5, 111], "nice": false, "zero": false}, "axis": null},
            "text": {"field": "t"}
          }
        },
        {
          "data": {"name": "insetYTitle"},
          "mark": {"type": "text", "font": "Liberation Sans", "fontSize": 10, "fontWeight": "bold", "align": "center", "baseline": "middle", "angle": 270, "color": "black"},
          "encoding": {
            "x": {"field": "iw", "type": "quantitative", "scale": {"domain": [1692, 4680.5], "reverse": true, "nice": false, "zero": false}, "axis": null},
            "y": {"field": "iv", "type": "quantitative", "scale": {"domain": [-156.5, 111], "nice": false, "zero": false}, "axis": null},
            "text": {"field": "t"}
          }
        }
      ]
    }
  ],
  "resolve": {"scale": {"x": "independent", "y": "independent"}}
}
